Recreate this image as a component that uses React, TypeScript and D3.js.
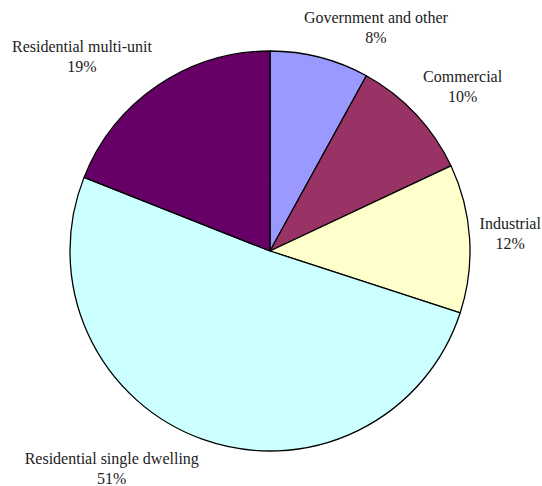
import React, { useEffect, useRef } from "react";
import * as d3 from "d3";

const categories = [
  "Government and other",
  "Commercial",
  "Industrial",
  "Residential single dwelling",
  "Residential multi-unit",
];
const values = [8, 10, 12, 51, 19];
const colors = ["#9999FF", "#993366", "#FFFFCC", "#CCFFFF", "#660066"];

const W = 542;
const H = 486;
const CX = 270;
const CY = 251;
const R = 200;
const LABEL_R = 210;
const SIZE = 16;
const LINE_H = 20;

export default function App() {
  const ref = useRef<SVGSVGElement | null>(null);

  useEffect(() => {
    const svg = d3.select(ref.current);
    svg.selectAll("*").remove();
    svg
      .append("style")
      .text(
        `.lbl { font-family: "Liberation Serif", Tinos, "Times New Roman", serif; font-size: ${SIZE}px; fill: #222; }`
      );

    const total = d3.sum(values);
    const pie = d3.pie<number>().sort(null).value((d) => d);
    const arcs = pie(values);
    const arc = d3.arc<d3.PieArcDatum<number>>().innerRadius(0).outerRadius(R);

    const g = svg.append("g").attr("transform", `translate(${CX},${CY})`);
    g.selectAll("path")
      .data(arcs)
      .join("path")
      .attr("d", (d) => arc(d) || "")
      .attr("fill", (_, i) => colors[i])
      .attr("stroke", "#000")
      .attr("stroke-width", 1.3)
      .attr("stroke-linejoin", "round");

    arcs.forEach((a, i) => {
      const mid = (a.startAngle + a.endAngle) / 2;
      const s = Math.sin(mid);
      const c = Math.cos(mid);
      const px = CX + LABEL_R * s;
      const py = CY - LABEL_R * c;
      const pct = `${Math.round((values[i] / total) * 100)}%`;
      const t1 = svg
        .append("text")
        .attr("class", "lbl")
        .attr("text-anchor", "middle")
        .text(categories[i]);
      const t2 = svg
        .append("text")
        .attr("class", "lbl")
        .attr("text-anchor", "middle")
        .text(pct);
      const w = Math.max(
        (t1.node() as SVGTextElement).getComputedTextLength(),
        (t2.node() as SVGTextElement).getComputedTextLength()
      );
      const h = 2 * LINE_H;
      const gx = Math.max(-1, Math.min(1, s * 3));
      const fy = Math.max(-1, Math.min(1, c * 3));
      const left = px - (w * (1 - gx)) / 2;
      const top = py - (h * (1 + fy)) / 2;
      const cxText = left + w / 2;
      t1.attr("x", cxText).attr("y", top + 15);
      t2.attr("x", cxText).attr("y", top + 15 + LINE_H);
    });
  }, []);

  return (
    <svg
      ref={ref}
      width={W}
      height={H}
      style={{ position: "absolute", left: 0, top: 0 }}
    />
  );
}
